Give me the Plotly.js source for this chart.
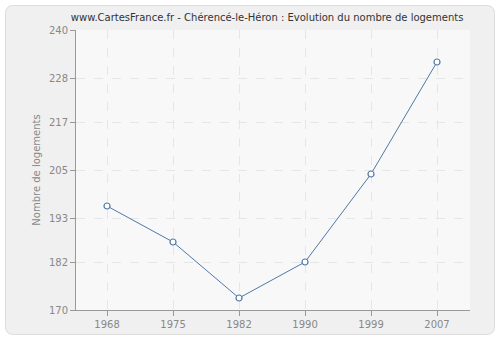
<!DOCTYPE html>
<html>
<head>
<meta charset="utf-8">
<script src="https://cdn.plot.ly/plotly-3.0.1.min.js"></script>
<style>html,body{margin:0;padding:0;background:#fff;}#chart{width:500px;height:340px;}</style>
</head>
<body>
<div id="chart"></div>
<script>
var years = ["1968", "1975", "1982", "1990", "1999", "2007"];
var logements = [196, 187, 173, 182, 204, 232];
var yTicks = [170, 182, 193, 205, 217, 228, 240];

var trace = {
  x: years,
  y: logements,
  type: "scatter",
  mode: "lines+markers",
  line: {color: "#4f79a7", width: 1},
  marker: {symbol: "circle", size: 6, color: "#ffffff", line: {color: "#4f79a7", width: 1.2}},
  hoverinfo: "x+y"
};

var FONT = "DejaVu Sans, Verdana, sans-serif";

var layout = {
  width: 500, height: 340,
  margin: {l: 76, r: 30, t: 30, b: 30},
  paper_bgcolor: "#ffffff",
  plot_bgcolor: "#f8f8f8",
  showlegend: false,
  title: {
    text: "www.CartesFrance.fr - Chérencé-le-Héron : Evolution du nombre de logements",
    font: {family: FONT, size: 10, color: "#333333"},
    xref: "paper", x: 0.485, xanchor: "center", y: 0.948, yanchor: "middle"
  },
  xaxis: {
    type: "category",
    range: [-0.47, 5.5],
    showline: true, linecolor: "#999999", linewidth: 1,
    ticks: "outside", ticklen: 5, tickcolor: "#999999",
    showgrid: true, gridcolor: "#e6e6e6", griddash: "dash", gridwidth: 1,
    tickfont: {family: FONT, size: 10, color: "#888888"},
    zeroline: false, fixedrange: true
  },
  yaxis: {
    range: [170, 240],
    tickvals: yTicks,
    ticktext: yTicks.map(String),
    showline: true, linecolor: "#999999", linewidth: 1,
    ticks: "outside", ticklen: 5, tickcolor: "#999999",
    showgrid: true, gridcolor: "#e6e6e6", griddash: "dash", gridwidth: 1,
    tickfont: {family: FONT, size: 10, color: "#888888"},
    title: {text: "Nombre de logements", font: {family: FONT, size: 10, color: "#888888"}, standoff: 6},
    zeroline: false, fixedrange: true
  },
  shapes: [
    {
      type: "path", xref: "paper", yref: "paper", layer: "below",
      path: "",
      fillcolor: "#f0f0f0", line: {color: "#dcdcdc", width: 1}
    },
    {
      type: "rect", xref: "paper", yref: "paper", layer: "below",
      x0: 0, x1: 1, y0: 0, y1: 1,
      fillcolor: "#f8f8f8", line: {width: 0}
    }
  ]
};

// Rounded outer panel in pixel terms converted to paper coords
(function(){
  var W = 500, H = 340, m = layout.margin;
  var pw = W - m.l - m.r, ph = H - m.t - m.b;
  function px(x){ return ((x - m.l) / pw).toFixed(4); }
  function py(y){ return ((H - m.b - y) / ph).toFixed(4); }
  var x0 = 5.5, x1 = 494.5, y0 = 5.5, y1 = 334.5, r = 8;
  layout.shapes[0].path =
    "M " + px(x0 + r) + "," + py(y0) +
    " L " + px(x1 - r) + "," + py(y0) +
    " Q " + px(x1) + "," + py(y0) + " " + px(x1) + "," + py(y0 + r) +
    " L " + px(x1) + "," + py(y1 - r) +
    " Q " + px(x1) + "," + py(y1) + " " + px(x1 - r) + "," + py(y1) +
    " L " + px(x0 + r) + "," + py(y1) +
    " Q " + px(x0) + "," + py(y1) + " " + px(x0) + "," + py(y1 - r) +
    " L " + px(x0) + "," + py(y0 + r) +
    " Q " + px(x0) + "," + py(y0) + " " + px(x0 + r) + "," + py(y0) + " Z";
})();

Plotly.newPlot("chart", [trace], layout, {displayModeBar: false, staticPlot: true});
</script>
</body>
</html>
